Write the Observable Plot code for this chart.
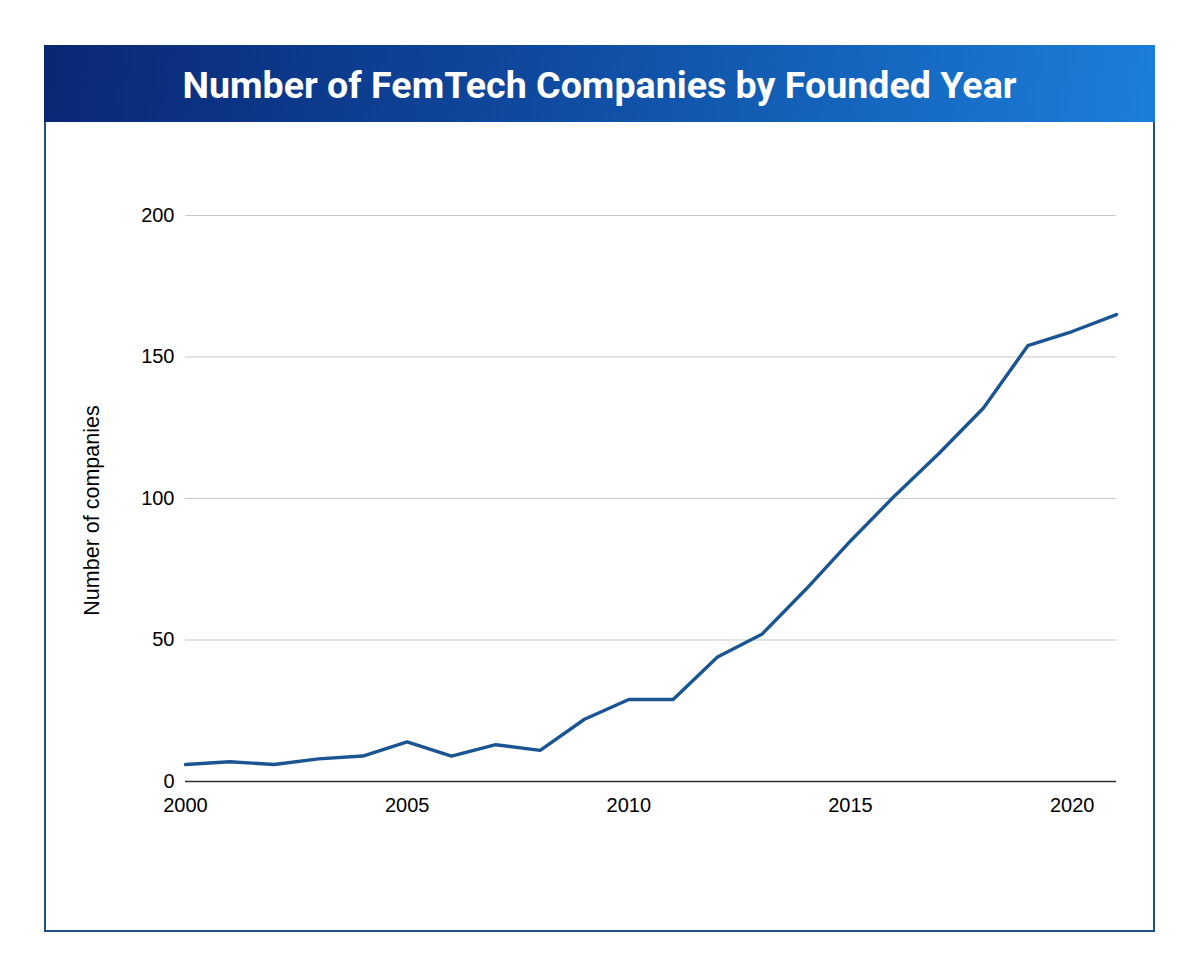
<!DOCTYPE html>
<html>
<head>
<meta charset="utf-8">
<script src="https://cdn.jsdelivr.net/npm/d3@7"></script>
<script src="https://cdn.jsdelivr.net/npm/@observablehq/plot@0.6"></script>
<style>
  html, body { margin: 0; padding: 0; background: #ffffff; }
  body { width: 1200px; height: 978px; position: relative; overflow: hidden; }
  #frame {
    position: absolute; left: 44px; top: 45px; width: 1111px; height: 887px;
    box-sizing: border-box; border: 2px solid #1d4f8b; background: #fff;
  }
  #header {
    position: absolute; left: 44px; top: 45px; width: 1111px; height: 77px;
    background: linear-gradient(100deg, #0a2672 0%, #0f4aa0 45%, #1b7fd9 100%);
    color: #fff; font-family: Roboto, "Noto Sans", sans-serif; font-weight: 700;
    font-size: 37.6px; text-align: center; line-height: 77px; box-sizing: border-box;
    padding-top: 2px;
  }
  #chart { position: absolute; left: 46px; top: 122px; }
</style>
</head>
<body>
<div id="frame"></div>
<div id="header">Number of FemTech Companies by Founded Year</div>
<div id="chart"></div>
<script>
const years = [2000,2001,2002,2003,2004,2005,2006,2007,2008,2009,2010,2011,2012,2013,2014,2015,2016,2017,2018,2019,2020,2021];
const companies = [6,7,6,8,9,14,9,13,11,22,29,29,44,52,68,85,101,116,132,154,159,165];
const xTicks = [2000,2005,2010,2015,2020];
const yTicks = [0,50,100,150,200];
const yLabel = "Number of companies";

const data = years.map((y, i) => ({year: y, count: companies[i]}));
const font = '"Liberation Sans", Arial, sans-serif';

const chart = Plot.plot({
  width: 1107,
  height: 808,
  marginLeft: 139,
  marginRight: 37,
  marginTop: 93,
  marginBottom: 149,
  style: {background: "transparent", fontFamily: font, fontSize: "20px", color: "#000"},
  x: {domain: [2000, 2021]},
  y: {domain: [0, 200]},
  marks: [
    Plot.ruleY(yTicks.filter(d => d > 0), {stroke: "#c8c8c8", strokeWidth: 1.2}),
    Plot.axisX({ticks: xTicks, tickFormat: d => String(d), tickSize: 0, tickPadding: 16, label: null, fontSize: 20, fill: "#000"}),
    Plot.axisY({ticks: yTicks, tickFormat: d => String(d), tickSize: 0, tickPadding: 11, label: null, fontSize: 20, fill: "#000"}),
    Plot.text([yLabel], {frameAnchor: "left", textAnchor: "middle", text: d => d, rotate: -90, dx: -93, dy: 12, fontSize: 21.5, fill: "#000"}),
    Plot.line(data, {x: "year", y: "count", stroke: "#1b5591", strokeWidth: 3.4, strokeLinejoin: "miter"}),
    Plot.ruleY([0], {stroke: "#333", strokeWidth: 1.5})
  ]
});
document.getElementById("chart").appendChild(chart);
</script>
</body>
</html>
